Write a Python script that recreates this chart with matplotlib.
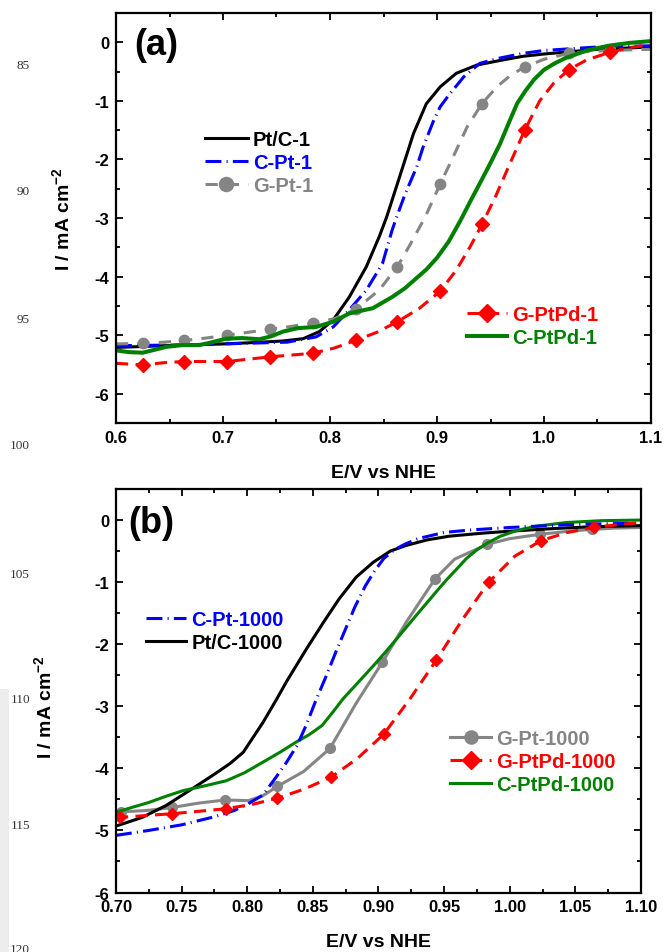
import matplotlib
matplotlib.use('Agg')
import matplotlib.pyplot as plt
from matplotlib.ticker import MultipleLocator, FormatStrFormatter
from matplotlib.patches import Rectangle

plt.rcParams['font.family'] = ['Liberation Sans', 'DejaVu Sans']
plt.rcParams['font.weight'] = 'bold'
plt.rcParams['axes.unicode_minus'] = False
plt.rcParams['mathtext.fontset'] = 'custom'
plt.rcParams['mathtext.rm'] = 'Liberation Sans:bold'
plt.rcParams['mathtext.it'] = 'Liberation Sans:bold'
plt.rcParams['mathtext.bf'] = 'Liberation Sans:bold'

# ---------------- panel (a) data ----------------
ptc1_x = [0.600, 0.630, 0.662, 0.700, 0.725, 0.756, 0.775, 0.790, 0.803, 0.818, 0.834, 0.846,
          0.853, 0.865, 0.878, 0.890, 0.903, 0.918, 0.937, 0.959, 0.980, 1.000, 1.050, 1.100]
ptc1_y = [-5.21, -5.19, -5.17, -5.15, -5.13, -5.10, -5.06, -4.94, -4.74, -4.35, -3.83, -3.32,
          -2.98, -2.30, -1.56, -1.05, -0.76, -0.53, -0.39, -0.31, -0.24, -0.20, -0.12, -0.08]

cpt1_x = [0.600, 0.650, 0.700, 0.760, 0.787, 0.803, 0.818, 0.834, 0.849, 0.858, 0.862, 0.870,
          0.881, 0.887, 0.897, 0.903, 0.912, 0.925, 0.940, 0.956, 0.980, 1.000, 1.050, 1.100]
cpt1_y = [-5.18, -5.17, -5.15, -5.12, -5.03, -4.86, -4.57, -4.23, -3.78, -3.21, -3.00, -2.60,
          -2.13, -1.79, -1.33, -1.10, -0.88, -0.59, -0.36, -0.28, -0.19, -0.14, -0.08, -0.06]

gpt1_x = [0.600, 0.625, 0.645, 0.664, 0.684, 0.704, 0.724, 0.744, 0.764, 0.784, 0.804, 0.824,
          0.846, 0.863, 0.875, 0.889, 0.903, 0.915, 0.928, 0.942, 0.956, 0.969, 0.982, 1.000,
          1.023, 1.040, 1.062, 1.080, 1.100]
gpt1_y = [-5.15, -5.14, -5.12, -5.09, -5.05, -5.00, -4.95, -4.90, -4.85, -4.79, -4.72, -4.56,
          -4.23, -3.83, -3.45, -2.98, -2.42, -1.96, -1.45, -1.05, -0.76, -0.56, -0.42, -0.29,
          -0.19, -0.16, -0.14, -0.13, -0.12]

gptpd1_x = [0.600, 0.625, 0.645, 0.664, 0.684, 0.704, 0.724, 0.744, 0.764, 0.784, 0.804, 0.824,
            0.844, 0.863, 0.883, 0.903, 0.918, 0.931, 0.942, 0.955, 0.967, 0.982, 0.996, 1.009,
            1.023, 1.040, 1.062, 1.080, 1.100]
gptpd1_y = [-5.48, -5.51, -5.47, -5.45, -5.45, -5.45, -5.41, -5.37, -5.34, -5.31, -5.22, -5.09,
            -4.95, -4.77, -4.55, -4.25, -3.89, -3.49, -3.11, -2.62, -2.12, -1.50, -1.00, -0.70,
            -0.47, -0.30, -0.17, -0.09, -0.04]

cptpd1_x = [0.600, 0.612, 0.625, 0.636, 0.647, 0.662, 0.678, 0.690, 0.703, 0.718, 0.734, 0.745,
            0.756, 0.770, 0.787, 0.803, 0.818, 0.830, 0.840, 0.858, 0.870, 0.880, 0.890, 0.900,
            0.911, 0.922, 0.931, 0.940, 0.950, 0.959, 0.967, 0.975, 0.983, 0.991, 1.000, 1.010,
            1.020, 1.040, 1.060, 1.080, 1.100]
cptpd1_y = [-5.26, -5.29, -5.30, -5.25, -5.20, -5.17, -5.17, -5.12, -5.06, -5.05, -5.07, -5.02,
            -4.94, -4.88, -4.86, -4.77, -4.63, -4.58, -4.54, -4.35, -4.20, -4.04, -3.88, -3.68,
            -3.40, -3.04, -2.72, -2.41, -2.06, -1.73, -1.38, -1.04, -0.82, -0.63, -0.47, -0.36,
            -0.27, -0.14, -0.06, -0.01, 0.02]

marks_a = [0.625, 0.664, 0.704, 0.744, 0.784, 0.824, 0.863, 0.903, 0.942, 0.982, 1.023, 1.062]

# ---------------- panel (b) data ----------------
ptc1000_x = [0.700, 0.720, 0.738, 0.758, 0.776, 0.787, 0.797, 0.812, 0.822, 0.830, 0.845, 0.858,
             0.870, 0.883, 0.896, 0.909, 0.921, 0.937, 0.954, 0.980, 1.000, 1.031, 1.060, 1.100]
ptc1000_y = [-4.93, -4.79, -4.60, -4.33, -4.08, -3.92, -3.74, -3.26, -2.90, -2.60, -2.08, -1.65,
             -1.27, -0.92, -0.68, -0.50, -0.41, -0.32, -0.26, -0.21, -0.18, -0.14, -0.11, -0.09]

cpt1000_x = [0.700, 0.725, 0.750, 0.775, 0.790, 0.800, 0.812, 0.822, 0.830, 0.838, 0.845, 0.852,
             0.860, 0.868, 0.876, 0.882, 0.890, 0.897, 0.904, 0.912, 0.920, 0.930, 0.950, 0.970,
             1.000, 1.050, 1.100]
cpt1000_y = [-5.08, -5.00, -4.91, -4.78, -4.68, -4.58, -4.43, -4.14, -3.90, -3.63, -3.30, -2.92,
             -2.52, -2.10, -1.70, -1.40, -1.06, -0.82, -0.62, -0.48, -0.39, -0.30, -0.20, -0.16,
             -0.12, -0.07, -0.05]

gpt1000_x = [0.700, 0.704, 0.723, 0.743, 0.763, 0.783, 0.801, 0.812, 0.823, 0.843, 0.863, 0.883,
             0.903, 0.921, 0.943, 0.958, 0.983, 1.000, 1.023, 1.045, 1.063, 1.080, 1.100]
gpt1000_y = [-4.70, -4.70, -4.68, -4.63, -4.56, -4.51, -4.52, -4.44, -4.29, -4.05, -3.68, -2.95,
             -2.29, -1.65, -0.95, -0.63, -0.39, -0.30, -0.23, -0.18, -0.15, -0.13, -0.12]

gptpd1000_x = [0.700, 0.703, 0.723, 0.743, 0.764, 0.784, 0.804, 0.823, 0.844, 0.864, 0.884, 0.904,
               0.924, 0.944, 0.964, 0.984, 1.004, 1.024, 1.044, 1.064, 1.080, 1.100]
gptpd1000_y = [-4.80, -4.79, -4.76, -4.73, -4.69, -4.65, -4.58, -4.48, -4.33, -4.14, -3.84, -3.45,
               -2.88, -2.26, -1.60, -1.00, -0.58, -0.33, -0.20, -0.12, -0.08, -0.04]

cptpd1000_x = [0.700, 0.712, 0.725, 0.738, 0.751, 0.768, 0.784, 0.798, 0.812, 0.825, 0.837, 0.847,
               0.857, 0.865, 0.873, 0.883, 0.896, 0.906, 0.916, 0.927, 0.937, 0.945, 0.952, 0.960,
               0.967, 0.975, 0.983, 0.993, 1.005, 1.020, 1.043, 1.070, 1.100]
cptpd1000_y = [-4.71, -4.63, -4.55, -4.45, -4.36, -4.28, -4.20, -4.07, -3.90, -3.74, -3.58, -3.46,
               -3.31, -3.10, -2.88, -2.65, -2.35, -2.11, -1.86, -1.58, -1.33, -1.13, -0.96, -0.78,
               -0.62, -0.48, -0.37, -0.26, -0.17, -0.10, -0.04, -0.01, 0.00]

marks_gpt_b = [0.704, 0.743, 0.783, 0.823, 0.863, 0.903, 0.943, 0.983, 1.023, 1.063]
marks_gptpd_b = [0.703, 0.743, 0.784, 0.823, 0.864, 0.904, 0.944, 0.984, 1.024, 1.064]

line_numbers = ['85', '90', '95', '100', '105', '110', '115', '120']
line_number_y = [66, 192, 320, 446, 575, 700, 826, 950]   # pixel rows on the page

GRAY = '#858585'
GREEN = '#008000'
DASHDOT = (0, (5.2, 1.7, 0.35, 1.7))


def mark_idx(xs, marks):
    return [i for i, v in enumerate(xs) if any(abs(v - m) < 1e-6 for m in marks)]


def style_axes(ax, xmaj, xmin, xfmt):
    ax.xaxis.set_major_locator(MultipleLocator(xmaj))
    ax.xaxis.set_minor_locator(MultipleLocator(xmin))
    ax.yaxis.set_major_locator(MultipleLocator(1))
    ax.yaxis.set_minor_locator(MultipleLocator(0.5))
    ax.xaxis.set_major_formatter(FormatStrFormatter(xfmt))
    ax.yaxis.set_major_formatter(FormatStrFormatter('%d'))
    ax.tick_params(which='both', direction='in', top=True, right=True, width=1.3,
                   labelsize=12, pad=5)
    ax.tick_params(which='major', length=5)
    ax.tick_params(which='minor', length=3)
    for s in ax.spines.values():
        s.set_linewidth(1.6)


fig = plt.figure(figsize=(6.63, 9.53), dpi=100)

# ============================ (a) ============================
ax1 = fig.add_axes([116 / 663, 1 - 424 / 953, 535 / 663, 410 / 953])
h_ptc1, = ax1.plot(ptc1_x, ptc1_y, color='black', lw=2.2, label='Pt/C-1')
h_cpt1, = ax1.plot(cpt1_x, cpt1_y, color='blue', lw=2.2, ls=DASHDOT, label='C-Pt-1')
h_gpt1, = ax1.plot(gpt1_x, gpt1_y, color=GRAY, lw=2.2, ls=(0, (4, 3)), marker='o', ms=7.5,
                   markevery=mark_idx(gpt1_x, marks_a), label='G-Pt-1')
h_cptpd1, = ax1.plot(cptpd1_x, cptpd1_y, color=GREEN, lw=2.9, label='C-PtPd-1')
h_gptpd1, = ax1.plot(gptpd1_x, gptpd1_y, color='red', lw=2.2, ls=(0, (4, 2.4)), marker='D', ms=7,
                     markevery=mark_idx(gptpd1_x, marks_a), label='G-PtPd-1')

ax1.set_xlim(0.6, 1.1)
ax1.set_ylim(-6.5, 0.5)
style_axes(ax1, 0.1, 0.05, '%.1f')
ax1.set_xlabel('E/V vs NHE', fontsize=14, fontweight='bold')
ax1.xaxis.set_label_coords(0.5, -0.101)
ax1.set_ylabel('I / mA cm$^{-2}$', fontsize=14, fontweight='bold', va='center')
ax1.yaxis.set_label_coords((62 - 116) / 535, 0.5)
ax1.text(0.034, 0.924, '(a)', transform=ax1.transAxes, fontsize=26, fontweight='bold',
         va='center', ha='left')

leg_kw = dict(frameon=False, fontsize=14.5, handletextpad=0.25, labelspacing=0.2,
              borderpad=0, borderaxespad=0, labelcolor='linecolor', markerscale=1.35,
              numpoints=1)
leg1 = ax1.legend(handles=[h_ptc1, h_cpt1, h_gpt1], loc='upper left',
                  bbox_to_anchor=((205 - 116) / 535, (424 - 131) / 410),
                  handlelength=2.13, **leg_kw)
ax1.add_artist(leg1)
ax1.legend(handles=[h_gptpd1, h_cptpd1], loc='upper left',
           bbox_to_anchor=((467 - 116) / 535, (424 - 306) / 410),
           handlelength=2.0, **leg_kw)

# ============================ (b) ============================
ax2 = fig.add_axes([116 / 663, 1 - 893.5 / 953, 525 / 663, 403.5 / 953])
h_gpt1000, = ax2.plot(gpt1000_x, gpt1000_y, color=GRAY, lw=2.2, marker='o', ms=7,
                      markevery=mark_idx(gpt1000_x, marks_gpt_b), label='G-Pt-1000')
h_ptc1000, = ax2.plot(ptc1000_x, ptc1000_y, color='black', lw=2.2, label='Pt/C-1000')
h_cptpd1000, = ax2.plot(cptpd1000_x, cptpd1000_y, color=GREEN, lw=2.2, label='C-PtPd-1000')
h_cpt1000, = ax2.plot(cpt1000_x, cpt1000_y, color='blue', lw=2.2, ls=DASHDOT, label='C-Pt-1000')
h_gptpd1000, = ax2.plot(gptpd1000_x, gptpd1000_y, color='red', lw=2.2, ls=(0, (4, 2.4)),
                        marker='D', ms=6.5, markevery=mark_idx(gptpd1000_x, marks_gptpd_b),
                        label='G-PtPd-1000')

ax2.set_xlim(0.7, 1.1)
ax2.set_ylim(-6, 0.5)
style_axes(ax2, 0.05, 0.025, '%.2f')
ax2.set_xlabel('E/V vs NHE', fontsize=14, fontweight='bold')
ax2.xaxis.set_label_coords(0.5, -0.101)
ax2.set_ylabel('I / mA cm$^{-2}$', fontsize=14, fontweight='bold', va='center')
ax2.yaxis.set_label_coords((44 - 116) / 525, (893.5 - 707) / 403.5)
ax2.text(0.023, 0.916, '(b)', transform=ax2.transAxes, fontsize=26, fontweight='bold',
         va='center', ha='left')

leg3 = ax2.legend(handles=[h_cpt1000, h_ptc1000], loc='upper left',
                  bbox_to_anchor=((146 - 116) / 525, (893.5 - 611) / 403.5),
                  handlelength=2.0, **leg_kw)
ax2.add_artist(leg3)
ax2.legend(handles=[h_gpt1000, h_gptpd1000, h_cptpd1000], loc='upper left',
           bbox_to_anchor=((450 - 116) / 525, (893.5 - 730) / 403.5),
           handlelength=2.05, **leg_kw)

# page line numbers and the scan shadow on the left edge
for lab, py in zip(line_numbers, line_number_y):
    fig.text(30 / 663, 1 - py / 953, lab, ha='right', va='center', fontsize=9.5,
             family='Liberation Serif', fontweight='normal', color='#333333')
fig.add_artist(Rectangle((0, 0), 9 / 663, (953 - 690) / 953, transform=fig.transFigure,
                         facecolor='#ededed', edgecolor='none', zorder=-1))

fig.savefig('out.png', dpi=100)
